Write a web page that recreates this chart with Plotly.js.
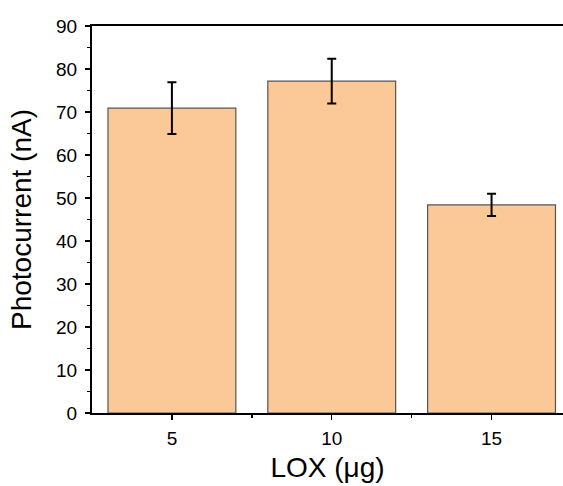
<!DOCTYPE html>
<html><head><meta charset="utf-8">
<script src="https://cdn.plot.ly/plotly-3.0.1.min.js"></script>
<style>html,body{margin:0;padding:0;background:#fff}#c{width:563px;height:486px}</style>
</head><body><div id="c"></div>
<script>
const categories = ['5', '10', '15'];
const photocurrent = [70.9, 77.2, 48.4];
const errors = [6.0, 5.2, 2.6];
const positions = categories.map((c, i) => i);

const trace = {
  type: 'bar',
  x: positions,
  y: photocurrent,
  width: 0.8,
  marker: {color: '#FBC897', line: {color: '#555555', width: 1.2}},
  error_y: {type: 'data', array: errors, visible: true, color: '#000000', thickness: 2, width: 4.5}
};

const layout = {
  width: 563, height: 486,
  margin: {l: 92, r: 0, t: 26, b: 73},
  paper_bgcolor: '#ffffff', plot_bgcolor: '#ffffff',
  font: {family: 'Liberation Sans, Arial, sans-serif', color: '#000'},
  showlegend: false,
  bargap: 0.2,
  xaxis: {
    range: [-0.5, 2.447],
    tickvals: positions, ticktext: categories,
    ticks: 'outside', ticklen: 5, tickwidth: 1.5, tickcolor: '#000',
    minor: {tickvals: [0.5, 1.5], ticks: 'outside', ticklen: 3, tickwidth: 1.5, tickcolor: '#000'},
    showline: true, linecolor: '#000', linewidth: 2, mirror: true,
    showgrid: false, zeroline: false,
    tickfont: {size: 19}, ticklabelstandoff: 2,
    title: {text: 'LOX (μg)', font: {size: 28}, standoff: 10}
  },
  yaxis: {
    range: [0, 90], tickvals: [0,10,20,30,40,50,60,70,80,90],
    ticks: 'outside', ticklen: 5, tickwidth: 1.5, tickcolor: '#000',
    minor: {dtick: 5, ticks: 'outside', ticklen: 3, tickwidth: 1.5, tickcolor: '#000'},
    showline: true, linecolor: '#000', linewidth: 2,
    showgrid: false, zeroline: false,
    tickfont: {size: 19}, ticklabelstandoff: 4,
    title: {text: 'Photocurrent (nA)', font: {size: 28}, standoff: 16}
  }
};

Plotly.newPlot('c', [trace], layout, {displayModeBar: false, staticPlot: true});
</script></body></html>
